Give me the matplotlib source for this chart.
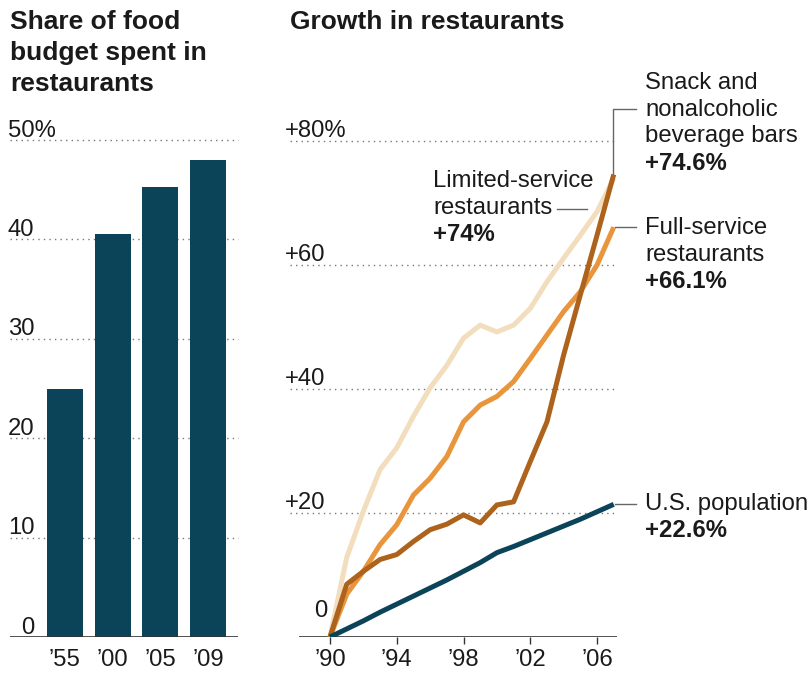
import matplotlib
matplotlib.use("Agg")
import matplotlib.pyplot as plt
import numpy as np

plt.rcParams['font.family'] = ['Liberation Sans', 'DejaVu Sans']

# left chart: share of food budget spent in restaurants
bar_labels = ["\u201955", "\u201900", "\u201905", "\u201909"]
bar_values = [25.0, 40.5, 45.3, 48.0]

# right chart: growth since 1990, percent
years = list(range(1990, 2008))
limited = [0, 12.8, 20.3, 27.0, 30.5, 35.6, 40.2, 43.8, 48.2, 50.3, 49.2, 50.3,
           53.0, 57.3, 61.1, 64.8, 68.6, 74.0]
full = [0, 6.9, 10.6, 14.9, 18.1, 22.9, 25.6, 29.1, 34.7, 37.4, 38.8, 41.2,
        44.9, 48.7, 52.5, 55.7, 60.0, 66.1]
snack = [0, 8.5, 10.6, 12.5, 13.3, 15.4, 17.3, 18.2, 19.7, 18.4, 21.3, 21.8,
         28.3, 34.7, 45.5, 55.2, 64.8, 74.6]
population = [0, 1.3, 2.6, 4.0, 5.3, 6.6, 7.9, 9.2, 10.6, 12.0, 13.6, 14.6,
              15.7, 16.8, 17.9, 19.0, 20.2, 21.4]
year_ticks = [1990, 1994, 1998, 2002, 2006]
year_labels = ["\u201990", "\u201994", "\u201998", "\u201902", "\u201906"]

navy = '#0b4459'
tan = '#f2ddbd'
orange = '#e8953c'
brown = '#ad631b'
text_c = '#1a1a1a'
grid_c = '#777777'
FS = 17.2

W, H = 812, 673
fig = plt.figure(figsize=(W / 100, H / 100), dpi=100)

bottom_px, top_px = 637, 110
def ax_rect(x0, x1):
    return [x0 / W, (H - bottom_px) / H, (x1 - x0) / W, (bottom_px - top_px) / H]

# ---- left: bars
ax1 = fig.add_axes(ax_rect(8, 240))
sp = 47.7
ax1.set_xlim(-(65 - 8) / sp, 3 + (240 - 208) / sp)
ax1.set_ylim(0, (bottom_px - top_px) / 9.94)
x = np.arange(len(bar_values))
ax1.bar(x, bar_values, width=0.755, color=navy, zorder=3)
gx0, gx1 = -(65 - 10) / sp, 3 + (238 - 208) / sp
for v in [10, 20, 30, 40, 50]:
    ax1.hlines(v, gx0, gx1, colors=grid_c, linestyles=(0, (1, 3)), lw=1, zorder=1)
    txt = "50%" if v == 50 else str(v)
    ax1.text(-(65 - 8) / sp, v + 0.35, txt, ha='left', va='baseline',
             fontsize=FS, color=text_c)
ax1.text(-(65 - 34) / sp, 0.35, "0", ha='right', va='baseline', fontsize=FS, color=text_c)
ax1.hlines(0, gx0, gx1, colors='#333333', lw=1.2, zorder=4)
ax1.set_xticks(x)
ax1.set_xticklabels(bar_labels, fontsize=FS, color=text_c)
ax1.tick_params(axis='x', length=0, pad=9)
ax1.set_yticks([])
[ax1.spines[s].set_visible(False) for s in ['top', 'right', 'bottom', 'left']]

# ---- right: lines
ax2 = fig.add_axes(ax_rect(284, 620))
ppy = 16.69
ax2.set_xlim(1990 - (330 - 284) / ppy, 1990 + (620 - 330) / ppy)
ax2.set_ylim(0, (bottom_px - top_px) / 6.2)
rx0, rx1 = 1990 - (330 - 290) / ppy, 2007.1
for v in [20, 40, 60, 80]:
    ax2.hlines(v, rx0, rx1, colors=grid_c, linestyles=(0, (1, 3)), lw=1, zorder=1)
    txt = "+80%" if v == 80 else "+" + str(v)
    ax2.text(1990 - (330 - 285) / ppy, v + 0.6, txt, ha='left', va='baseline',
             fontsize=FS, color=text_c)
ax2.text(1990 - 3 / ppy, 3.3, "0", ha='right', va='baseline', fontsize=FS, color=text_c)
ax2.hlines(0, 1990 - (330 - 299) / ppy, 2007.2, colors='#333333', lw=1.2, zorder=2)

lw = 3.6
ax2.plot(years, limited, color=tan, lw=lw, zorder=3, solid_capstyle='butt')
ax2.plot(years, full, color=orange, lw=lw, zorder=4, solid_capstyle='butt')
ax2.plot(years, snack, color=brown, lw=lw, zorder=5, solid_capstyle='butt')
ax2.plot(years, population, color=navy, lw=lw, zorder=6, solid_capstyle='butt')

ax2.set_xticks(year_ticks)
ax2.set_xticklabels(year_labels, fontsize=FS, color=text_c)
ax2.tick_params(axis='x', length=5, width=1, color='#333333', pad=4)
ax2.set_yticks([])
[ax2.spines[s].set_visible(False) for s in ['top', 'right', 'bottom', 'left']]

# annotations
lead = dict(color='#666666', lw=1, clip_on=False, zorder=2)
tx = 1990 + (645 - 330) / ppy
lx0 = 1990 + (613 - 330) / ppy
lx1 = 1990 + (636 - 330) / ppy
lh = 4.33

def label(xp, ytop, lines, bold_last=True):
    for i, s in enumerate(lines):
        bold = bold_last and i == len(lines) - 1
        ax2.text(xp, ytop - i * lh, s, ha='left', va='center', fontsize=FS,
                 color=text_c, fontweight='bold' if bold else 'normal', clip_on=False)

label(tx, 89.4, ["Snack and", "nonalcoholic", "beverage bars", "+74.6%"])
ax2.plot([lx0, lx0, lx1], [snack[-1], 85.1, 85.1], **lead)
label(tx, 66.0, ["Full-service", "restaurants", "+66.1%"])
ax2.plot([lx0 + 0.1, lx1], [full[-1], full[-1]], **lead)
label(tx, 21.5, ["U.S. population", "+22.6%"])
ax2.plot([lx0 + 0.1, lx1], [population[-1], population[-1]], **lead)
label(1996.2, 73.5, ["Limited-service", "restaurants", "+74%"])
ax2.plot([2003.6, 2005.4], [69.1, 69.1], **lead)

# titles
fig.text(10 / W, 1 - 10 / H, "Share of food\nbudget spent in\nrestaurants", ha='left',
         va='top', fontsize=19, fontweight='bold', color=text_c, linespacing=1.36)
fig.text(290 / W, 1 - 10 / H, "Growth in restaurants", ha='left', va='top',
         fontsize=19, fontweight='bold', color=text_c)

fig.savefig("out.png", dpi=100)
